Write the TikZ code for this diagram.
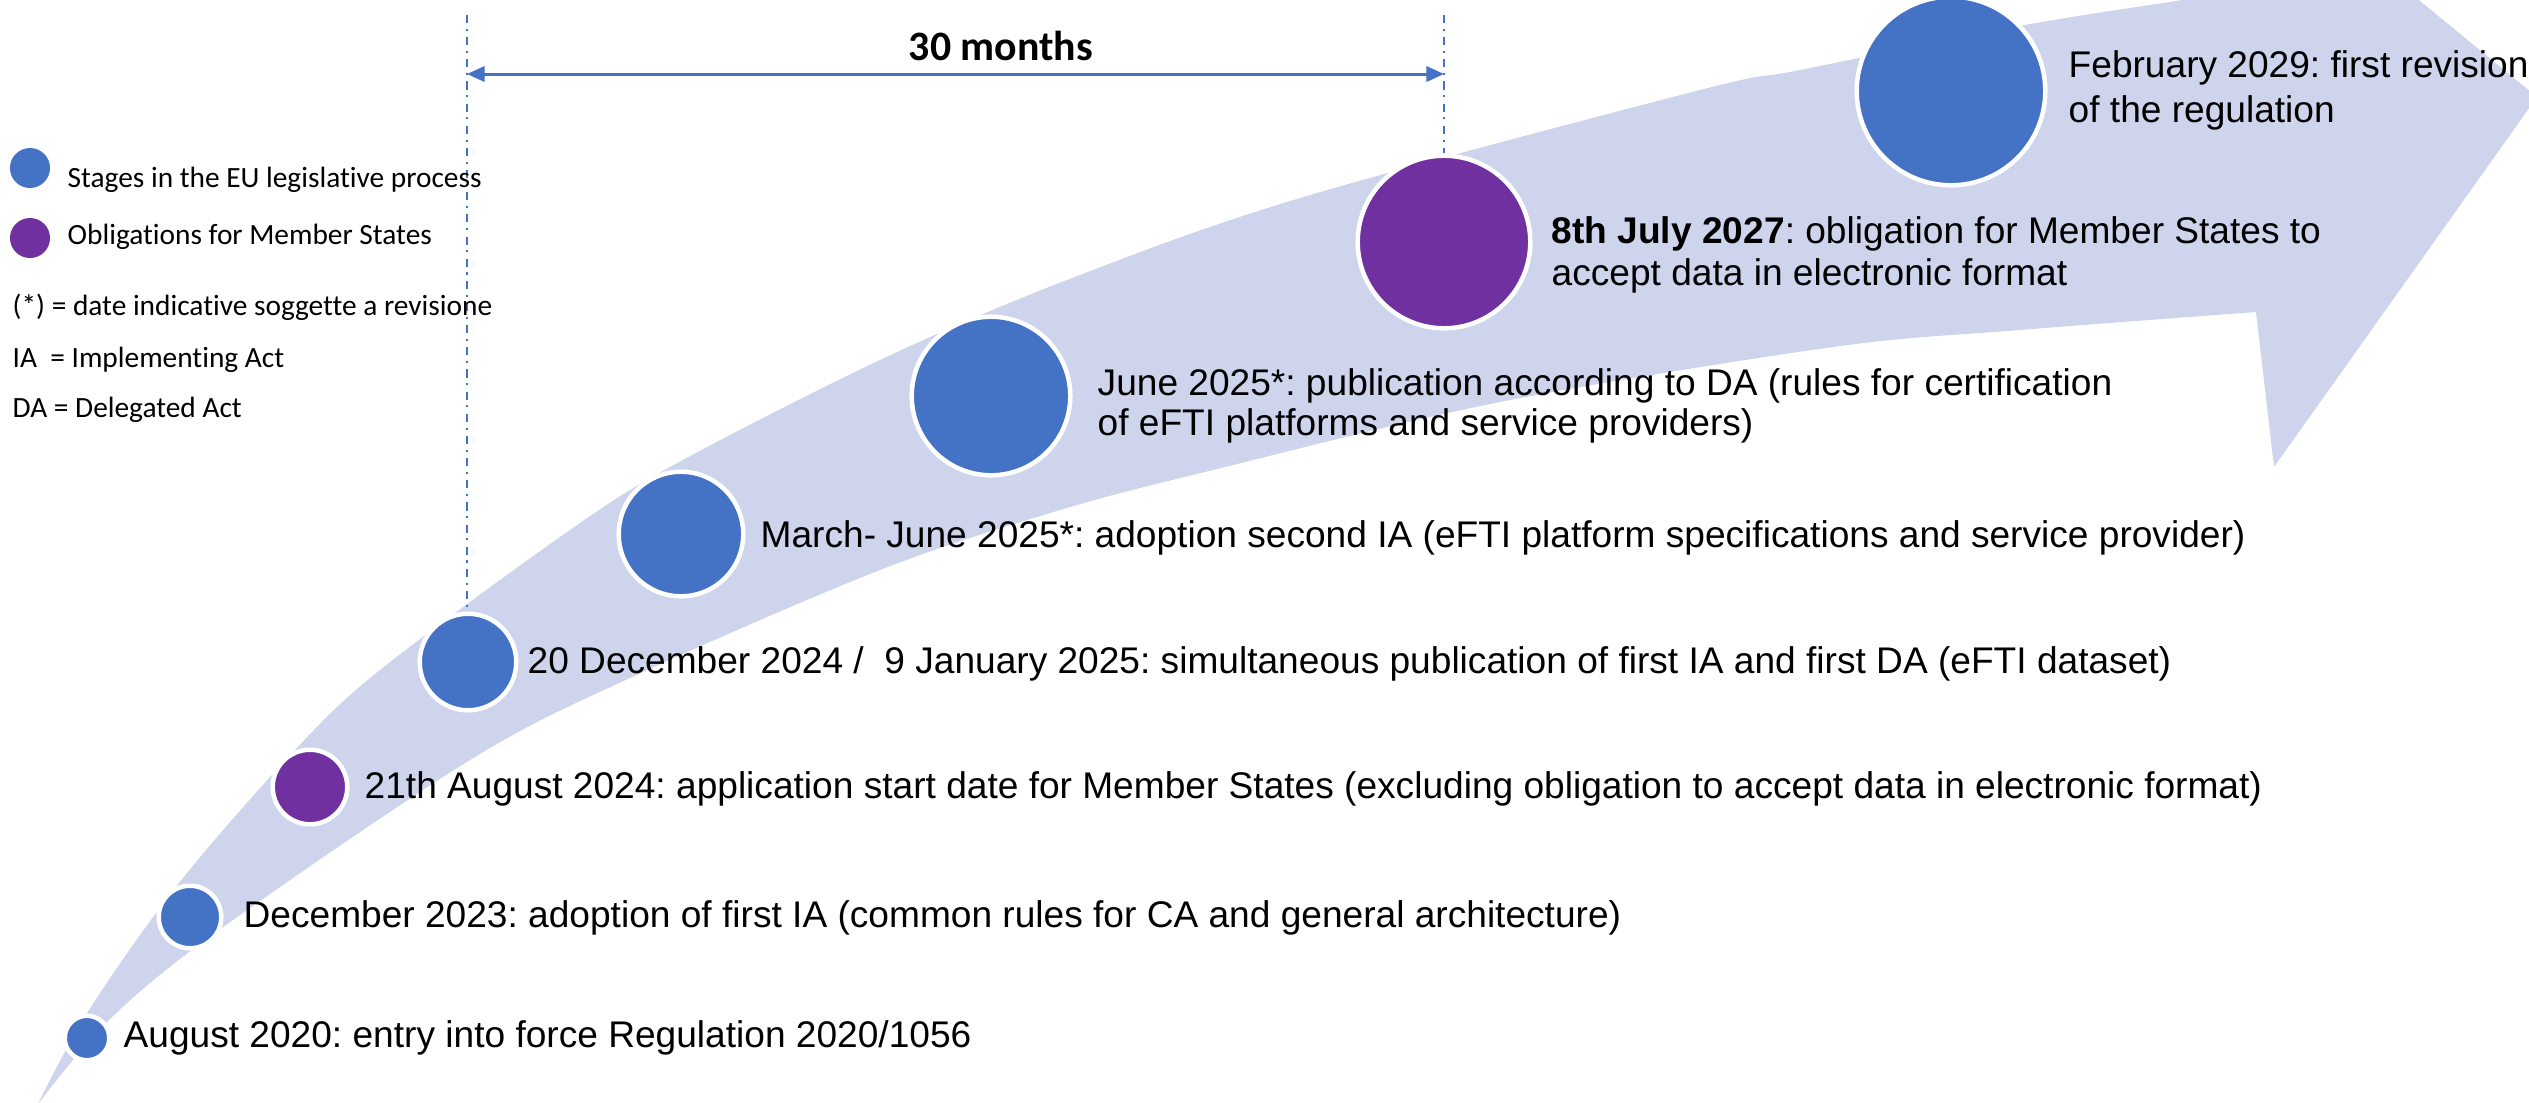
\documentclass[tikz,border=0pt]{standalone}
\usepackage{fontspec}
\setmainfont{Liberation Sans}
\newfontfamily\calfont[Ligatures=NoCommon]{Carlito}
\usetikzlibrary{arrows.meta}
\definecolor{cblue}{HTML}{4472C4}
\definecolor{cpurple}{HTML}{7030A0}
\definecolor{cband}{HTML}{CED4EB}
\frenchspacing
\begin{document}
\begin{tikzpicture}[x=0.01cm,y=-0.01cm,
  stagedot/.style={circle, draw=white, line width=1.28pt, inner sep=0pt, fill=cblue},
  obligdot/.style={stagedot, fill=cpurple},
  legdot/.style={circle, inner sep=0pt, minimum size=0.40cm},
  lbl/.style={inner sep=0pt, anchor=base west, font=\fontsize{10.55pt}{12pt}\selectfont},
  leg/.style={inner sep=0pt, anchor=base west, font=\calfont\fontsize{8.35pt}{10pt}\selectfont},
  guide/.style={cblue, line width=0.57pt, dash pattern=on 2.3pt off 1.6pt on 0.6pt off 1.8pt},
  span/.style={cblue, line width=0.85pt, {Triangle[length=5pt,width=4.3pt]}-{Triangle[length=5pt,width=4.3pt]}},
]
\useasboundingbox (0,0) rectangle (2529,1102);
\clip (0,0) rectangle (2529,1102);

% curved arrow band
\fill[cband] plot[smooth, tension=0.55] coordinates {(38,1104) (89,1010) (179,883) (295,750) (380,670) (560,537) (670,467) (880,360) (1067,280) (1300,198) (1700,90) (1800,70) (2025,25) (2182,0) (2250,-12)}
  -- (2280,-114) -- (2537,97) -- (2274,467) -- (2256,312)
  -- plot[smooth, tension=0.55] coordinates {(2256,312) (2020,330) (1833,347) (1500,402) (1213,470) (1060,510) (880,570) (630,678) (470,760) (219,930) (109,1020) (38,1104)}
  -- cycle;

% milestones
\node[stagedot, minimum size=0.445cm] (c1) at (87,1038) {};
\node[stagedot, minimum size=0.625cm] (c2) at (190,917) {};
\node[obligdot, minimum size=0.745cm] (c3) at (310,787) {};
\node[stagedot, minimum size=0.965cm] (c4) at (468,662) {};
\node[stagedot, minimum size=1.245cm] (c5) at (681,534) {};
\node[stagedot, minimum size=1.585cm] (c6) at (991,396) {};
\node[obligdot, minimum size=1.725cm] (c7) at (1444,242) {};
\node[stagedot, minimum size=1.885cm] (c8) at (1951,91) {};

% 30 months guides
\coordinate (g1) at (467,15);
\coordinate (g2) at (1444,15);
\draw[guide] (g1) -- (g1 |- c4.north);
\draw[guide] (g2) -- (g2 |- c7.north);
\coordinate (s1) at (467,74);
\coordinate (s2) at (1444,74);
\draw[span] (s1) -- (s2);
\node[inner sep=0pt, anchor=base, font=\calfont\bfseries\fontsize{11.9pt}{14pt}\selectfont] (months) at (1001,60) {30 months};

% labels
\node[lbl] (t1) at (123,1047) {August 2020: entry into force Regulation 2020/1056};
\node[lbl] (t2) at (243,927) {December 2023: adoption of first IA (common rules for CA and general architecture)};
\node[lbl] (t3) at (364,798) {21th August 2024: application start date for Member States (excluding obligation to accept data in electronic format)};
\node[lbl] (t4) at (527,673) {20 December 2024 /\ \ 9 January 2025: simultaneous publication of first IA and first DA (eFTI dataset)};
\node[lbl] (t5) at (760,547) {March- June 2025*: adoption second IA (eFTI platform specifications and service provider)};
\node[lbl] (t6a) at (1097,395) {June 2025*: publication according to DA (rules for certification};
\node[lbl] (t6b) at (1097,435) {of eFTI platforms and service providers)};
\node[lbl] (t7a) at (1551,243) {\textbf{8th July 2027}: obligation for Member States to};
\node[lbl] (t7b) at (1551,285) {accept data in electronic format};
\node[lbl] (t8a) at (2068,77) {February 2029: first revision};
\node[lbl] (t8b) at (2068,122) {of the regulation};

% legend
\node[legdot, fill=cblue] (k1) at (30,168) {};
\node[legdot, fill=cpurple] (k2) at (30,238) {};
\node[leg] (k1t) at (67,187) {Stages in the EU legislative process};
\node[leg] (k2t) at (67,244) {Obligations for Member States};
\node[leg] (k3t) at (12,315) {(*) = date indicative soggette a revisione};
\node[leg] (k4t) at (12,367) {IA\ \ = Implementing Act};
\node[leg] (k5t) at (12,417) {DA = Delegated Act};
\end{tikzpicture}
\end{document}
